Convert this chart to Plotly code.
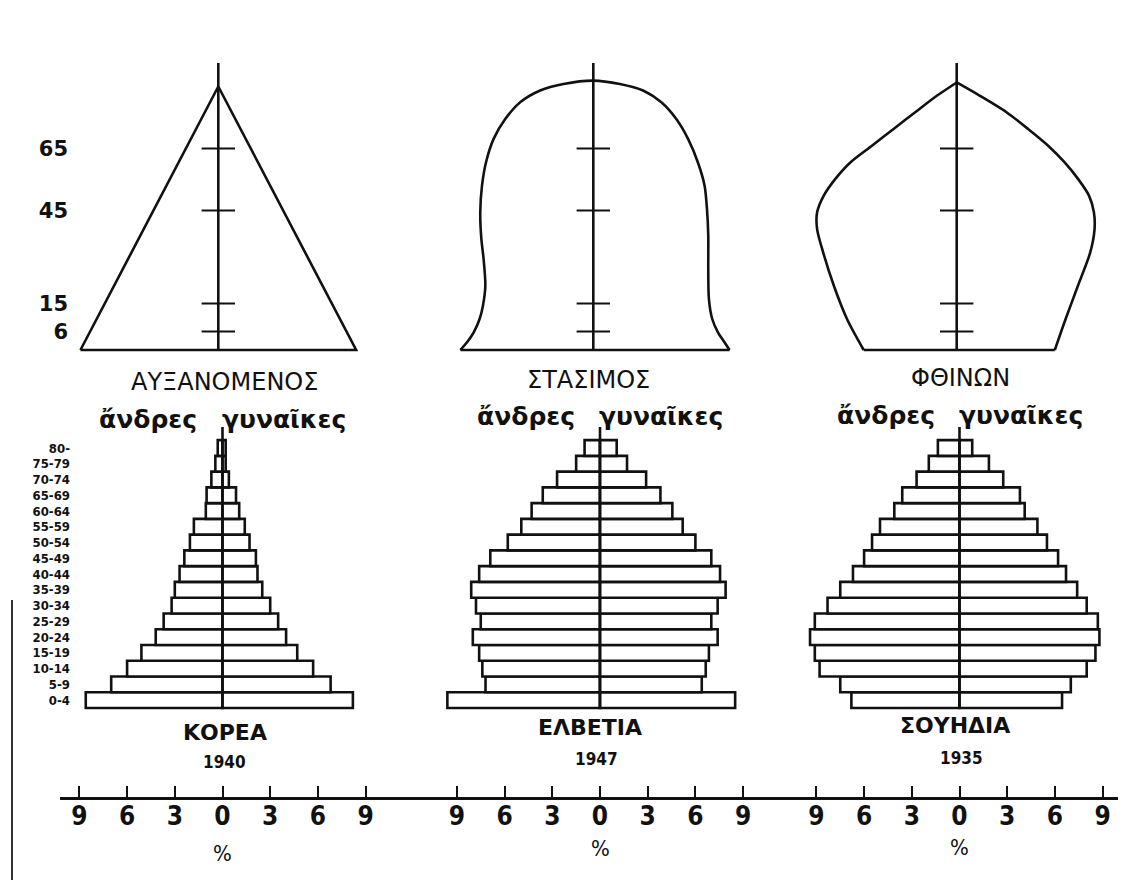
import plotly.graph_objects as go

W, H = 1126, 888

# age groups of the three real pyramids (bottom row), youngest first
age_groups = ["0-4", "5-9", "10-14", "15-19", "20-24", "25-29", "30-34", "35-39",
              "40-44", "45-49", "50-54", "55-59", "60-64", "65-69", "70-74", "75-79", "80-"]

# % of population, men (left) and women (right)
korea_men = [8.6, 7.0, 6.0, 5.1, 4.2, 3.7, 3.2, 3.0, 2.7, 2.4, 2.05, 1.8, 1.05, 1.0, 0.7, 0.45, 0.3]
korea_women = [8.2, 6.8, 5.7, 4.7, 4.0, 3.5, 3.0, 2.5, 2.2, 2.1, 1.7, 1.4, 1.05, 0.85, 0.4, 0.2, 0.2]
swiss_men = [9.6, 7.2, 7.4, 7.6, 8.0, 7.5, 7.8, 8.1, 7.6, 6.9, 5.8, 4.95, 4.3, 3.6, 2.7, 1.5, 0.97]
swiss_women = [8.5, 6.4, 6.65, 6.85, 7.4, 7.0, 7.4, 7.9, 7.55, 7.0, 6.0, 5.2, 4.55, 3.8, 2.9, 1.7, 1.05]
sweden_men = [6.8, 7.5, 8.8, 9.1, 9.4, 9.1, 8.3, 7.5, 6.7, 6.0, 5.5, 5.0, 4.1, 3.6, 2.7, 1.93, 1.36]
sweden_women = [6.45, 7.0, 8.0, 8.55, 8.8, 8.7, 8.0, 7.4, 6.7, 6.2, 5.5, 4.9, 4.1, 3.8, 2.75, 1.85, 0.8]

# schematic shapes (top row): x in %, y in years of age
marker_ages = [6, 15, 45, 65]

growing_x = [-8.67, 0, 8.67, -8.67]
growing_age = [0, 85, 0, 0]

stationary_x = [-8.36, -7.94, -7.52, -7.15, -6.94, -6.79, -6.90, -7.04, -7.11, -7.00, -6.75,
                -6.27, -5.54, -4.60, -3.34, -1.88, 0, 1.67, 3.13, 4.28, 5.22, 5.96, 6.58, 7.00,
                7.15, 7.23, 7.23, 7.27, 7.48, 7.84, 8.25, 8.57]
stationary_age = [0, 2.5, 5.7, 10.0, 14.3, 20.8, 29.4, 35.8, 44.4, 53.0, 60.5, 68.1, 74.5,
                  79.9, 83.7, 85.8, 86.9, 85.8, 83.7, 79.9, 74.5, 68.1, 60.5, 53.0, 45.5,
                  36.9, 26.1, 16.5, 10.0, 5.7, 2.5, 0]

declining_left_x = [-5.85, -6.90, -7.73, -8.40, -8.78, -8.78, -8.36, -7.63, -6.69, -5.33,
                    -3.97, -2.61, -1.25, 0]
declining_left_age = [0, 10.0, 20.8, 31.5, 39.0, 44.4, 49.8, 55.2, 60.5, 65.9, 71.3, 76.7,
                      82.0, 86.3]
declining_right_x = [0, 1.46, 3.13, 4.49, 5.75, 6.79, 7.63, 8.32, 8.63, 8.67, 8.40, 7.63,
                     6.85, 6.17]
declining_right_age = [86.3, 82.0, 76.7, 71.3, 65.9, 60.5, 55.2, 49.8, 44.4, 39.0, 31.5,
                       20.8, 10.0, 0]

shape_names = ["ΑΥΞΑΝΟΜΕΝΟΣ", "ΣΤΑΣΙΜΟΣ", "ΦΘΙΝΩΝ"]
countries = ["ΚΟΡΕΑ", "ΕΛΒΕΤΙΑ", "ΣΟΥΗΔΙΑ"]
years = ["1940", "1947", "1935"]
pct_ticks = [-9, -6, -3, 0, 3, 6, 9]
pct_labels = ["9", "6", "3", "0", "3", "6", "9"]

# ---- page geometry (page pixels; the page body has an 8px margin) ----
OFF = 8
FW, FH = W - 2 * OFF, H - 2 * OFF
PX = 15.9          # px per percent
AGE_PX = 3.1       # px per year, top row
AGE0 = 350         # px of age 0, top row
BAR_PX = 15.76     # px per age group, bottom row
BAR0 = 708         # px of lower edge of 0-4 bar
AXIS_Y = 797
col_edges = [60, 410, 779, W - OFF]
bottom_centers = [222.5, 600, 959.5]
top_centers = [218.3, 593.3, 956.7]

INK = "#111111"
SANS = "DejaVu Sans, Liberation Sans, sans-serif"
NARROW = "Liberation Sans Narrow, Arial Narrow, DejaVu Sans Condensed, Liberation Sans, sans-serif"


def fx(px):
    return (px - OFF) / FW


def fy(px):
    return 1 - (px - OFF) / FH


def outline(x, y, xa, ya, spline=False):
    return go.Scatter(x=x, y=y, mode="lines", xaxis=xa, yaxis=ya, hoverinfo="skip",
                      line=dict(color=INK, width=2.6, shape="spline" if spline else "linear",
                                smoothing=0.8))


fig = go.Figure()

# top row: schematic shapes
fig.add_trace(outline(growing_x, growing_age, "x4", "y"))
fig.add_trace(outline(stationary_x, stationary_age, "x5", "y", spline=True))
fig.add_trace(outline([stationary_x[0], stationary_x[-1]], [0, 0], "x5", "y"))
fig.add_trace(outline(declining_left_x, declining_left_age, "x6", "y", spline=True))
fig.add_trace(outline(declining_right_x, declining_right_age, "x6", "y", spline=True))
fig.add_trace(outline([declining_left_x[0], declining_right_x[-1]], [0, 0], "x6", "y"))

top_axis_age = (AGE0 - 63) / AGE_PX
for xa in ["x4", "x5", "x6"]:
    fig.add_trace(outline([0, 0], [0, top_axis_age], xa, "y"))
    mx, my = [], []
    for a in marker_ages:
        mx += [-1.05, 1.05, None]
        my += [a, a, None]
    fig.add_trace(go.Scatter(x=mx, y=my, mode="lines", xaxis=xa, yaxis="y", hoverinfo="skip",
                             line=dict(color=INK, width=2)))

# bottom row: population pyramids
idx = list(range(len(age_groups)))
pyramids = [(korea_men, korea_women), (swiss_men, swiss_women), (sweden_men, sweden_women)]
bar_style = dict(color="white", line=dict(color=INK, width=2.6))
for i, (men, women) in enumerate(pyramids):
    xa = "x" if i == 0 else "x%d" % (i + 1)
    fig.add_trace(go.Bar(x=[-v for v in men], y=idx, orientation="h", width=1,
                         marker=bar_style, xaxis=xa, yaxis="y2", name="άνδρες"))
    fig.add_trace(go.Bar(x=women, y=idx, orientation="h", width=1,
                         marker=bar_style, xaxis=xa, yaxis="y2", name="γυναίκες"))
    fig.add_trace(outline([0, 0], [-0.5, -0.5 + (BAR0 - 427) / BAR_PX], xa, "y2"))

layout = dict(
    width=FW, height=FH, margin=dict(l=0, r=0, t=0, b=0),
    paper_bgcolor="white", plot_bgcolor="rgba(0,0,0,0)",
    showlegend=False, barmode="overlay",
    font=dict(family=SANS, color=INK),
)

# bottom x axes (visible percentage scale)
for i in range(3):
    key = "xaxis" if i == 0 else "xaxis%d" % (i + 1)
    c = bottom_centers[i]
    layout[key] = dict(
        domain=[fx(col_edges[i]), fx(col_edges[i + 1])],
        range=[(col_edges[i] - c) / PX, (col_edges[i + 1] - c) / PX],
        anchor="y2", showline=True, linecolor=INK, linewidth=2.5,
        ticks="inside", ticklen=11, tickwidth=2, tickcolor=INK,
        tickvals=pct_ticks, ticktext=pct_labels, ticklabelstandoff=-6,
        tickfont=dict(family=NARROW, size=26, weight="bold", color=INK),
        showgrid=False, zeroline=False, fixedrange=True,
    )
# top x axes (hidden)
for i in range(3):
    c = top_centers[i]
    layout["xaxis%d" % (i + 4)] = dict(
        domain=[fx(col_edges[i]), fx(col_edges[i + 1])],
        range=[(col_edges[i] - c) / PX, (col_edges[i + 1] - c) / PX],
        anchor="y", visible=False, fixedrange=True,
    )

top_lo, top_hi = -3, 95
layout["yaxis"] = dict(
    domain=[fy(AGE0 - top_lo * AGE_PX), fy(AGE0 - top_hi * AGE_PX)],
    range=[top_lo, top_hi], anchor="free", position=fx(68),
    tickvals=marker_ages, ticktext=[str(a) for a in marker_ages], ticks="",
    tickfont=dict(family=SANS, size=21, weight="bold", color=INK),
    showline=False, showgrid=False, zeroline=False, fixedrange=True,
)
bot_top_px = 420
layout["yaxis2"] = dict(
    domain=[fy(AXIS_Y), fy(bot_top_px)],
    range=[-0.5 - (AXIS_Y - BAR0) / BAR_PX, -0.5 + (BAR0 - bot_top_px) / BAR_PX],
    anchor="free", position=fx(70),
    tickvals=idx, ticktext=age_groups, ticks="",
    tickfont=dict(family=NARROW, size=13, weight="bold", color=INK),
    showline=False, showgrid=False, zeroline=False, fixedrange=True,
)

anns = []


def note(text, x, y, size, bold=False, family=SANS, xanchor="center"):
    anns.append(dict(text=text, x=fx(x), y=fy(y), xref="paper", yref="paper",
                     xanchor=xanchor, yanchor="middle", showarrow=False,
                     font=dict(family=family, size=size, color=INK,
                               weight="bold" if bold else "normal")))


for name, (x, y) in zip(shape_names, [(224, 382), (588, 380), (960, 378)]):
    note(name, x, y, 24)
for c, y in zip(bottom_centers, [420, 416, 415]):
    note("ἄνδρες", c - 23, y, 25, bold=True, xanchor="right")
    note("γυναῖκες", c - 3, y, 25, bold=True, xanchor="left")
for name, (x, y) in zip(countries, [(225, 732), (590, 727), (955, 725)]):
    note(name, x, y, 22, bold=True)
for yr, (x, y) in zip(years, [(224, 762), (596, 759), (961, 758)]):
    note(yr, x, y, 17, bold=True, family=NARROW)
for c, y in zip(bottom_centers, [853, 848, 847]):
    note("%", c, y, 22, family=NARROW)

layout["annotations"] = anns
layout["shapes"] = [dict(type="line", xref="paper", yref="paper",
                         x0=fx(12), x1=fx(12), y0=fy(600), y1=fy(H - OFF),
                         line=dict(color="#333333", width=2))]

fig.update_layout(**layout)
fig.write_html("out.html")
